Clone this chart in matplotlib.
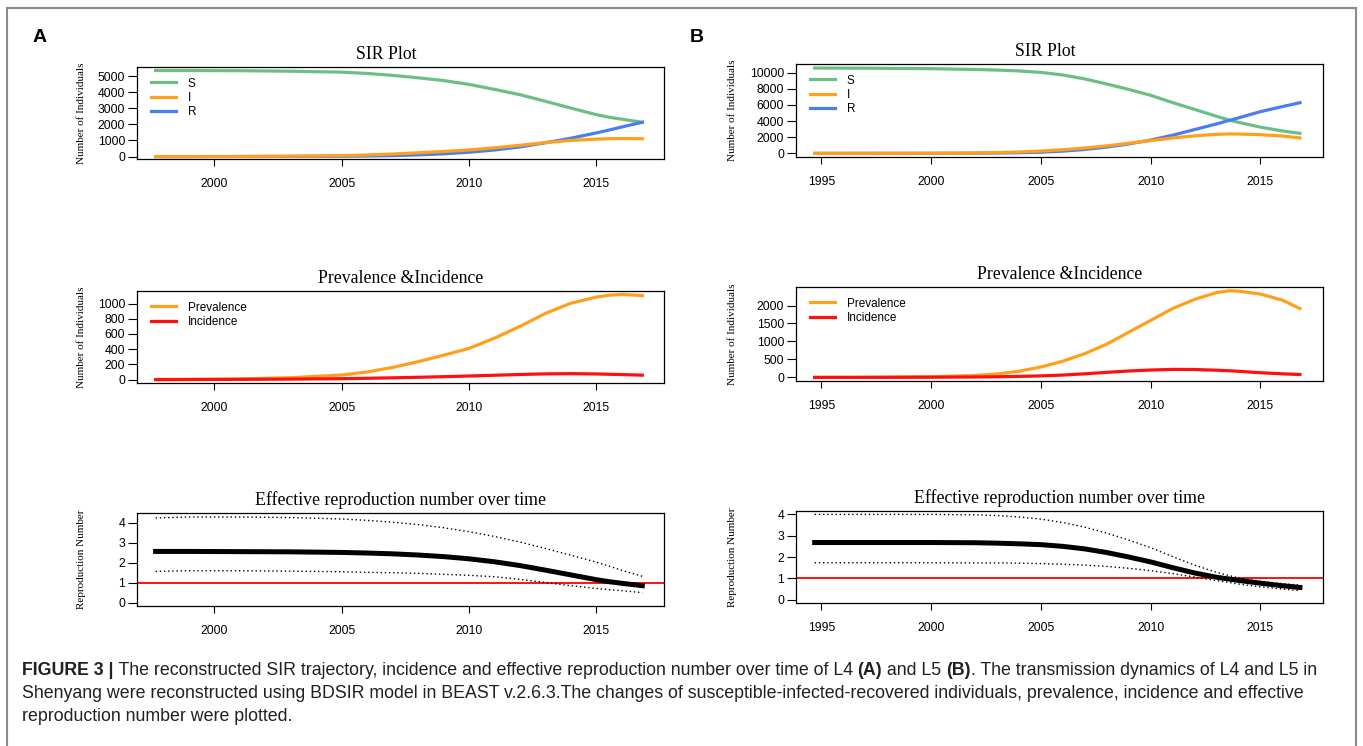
import matplotlib
matplotlib.use("Agg")
import matplotlib.pyplot as plt
from matplotlib.patches import Rectangle

W, H = 1363, 746
SANS = "Liberation Sans"
SERIF = "Liberation Serif"

# ---- data ----
# L4 (A)
yearsA = [1997.7, 1999, 2001, 2003, 2005, 2006, 2007, 2008, 2009, 2010,
          2011, 2012, 2013, 2014, 2015, 2015.5, 2016, 2016.8]
sA = [5340, 5340, 5330, 5300, 5240, 5160, 5040, 4890, 4720, 4480,
      4170, 3840, 3430, 3010, 2600, 2440, 2320, 2130]
iA = [0, 2, 8, 25, 60, 100, 160, 235, 320, 410,
      545, 700, 870, 1005, 1085, 1110, 1120, 1105]
rA = [0, 0, 2, 8, 20, 35, 60, 105, 170, 270,
      410, 600, 860, 1140, 1470, 1650, 1840, 2130]
incA = [0, 1, 3, 6, 12, 17, 23, 30, 38, 47, 57, 67, 75, 78, 74, 70, 66, 58]
reA = [2.57, 2.57, 2.56, 2.55, 2.52, 2.49, 2.45, 2.39, 2.31, 2.2,
       2.05, 1.86, 1.63, 1.39, 1.15, 1.05, 0.97, 0.85]
reA_hi = [4.25, 4.3, 4.3, 4.27, 4.2, 4.13, 4.04, 3.92, 3.76, 3.56,
          3.32, 3.04, 2.72, 2.38, 2.03, 1.83, 1.62, 1.32]
reA_lo = [1.57, 1.6, 1.6, 1.58, 1.55, 1.52, 1.5, 1.47, 1.42, 1.37,
          1.3, 1.17, 1.01, 0.85, 0.71, 0.65, 0.6, 0.5]

# L5 (B)
yearsB = [1994.7, 1997, 2000, 2002, 2003, 2004, 2005, 2006, 2007, 2008,
          2009, 2010, 2011, 2012, 2013, 2013.6, 2014, 2015, 2016, 2016.8]
sB = [10580, 10560, 10500, 10400, 10330, 10220, 10040, 9720, 9230, 8600,
      7930, 7200, 6300, 5450, 4600, 4120, 3850, 3250, 2780, 2480]
iB = [0, 3, 20, 55, 95, 170, 290, 450, 660, 925,
      1255, 1585, 1915, 2170, 2360, 2410, 2400, 2320, 2150, 1915]
rB = [0, 0, 5, 20, 40, 80, 150, 280, 480, 780,
      1170, 1650, 2250, 2950, 3650, 4100, 4400, 5170, 5800, 6280]
incB = [0, 1, 5, 12, 18, 28, 42, 65, 100, 140,
        178, 205, 222, 220, 200, 184, 170, 130, 100, 80]
reB = [2.68, 2.68, 2.68, 2.67, 2.65, 2.62, 2.58, 2.5, 2.38, 2.21,
       2.0, 1.77, 1.5, 1.25, 1.05, 0.96, 0.9, 0.77, 0.65, 0.57]
reB_hi = [4.0, 4.0, 4.0, 3.98, 3.95, 3.88, 3.78, 3.62, 3.4, 3.12,
          2.8, 2.44, 2.02, 1.62, 1.28, 1.12, 1.02, 0.86, 0.75, 0.68]
reB_lo = [1.73, 1.73, 1.73, 1.72, 1.72, 1.71, 1.69, 1.66, 1.62, 1.56,
          1.47, 1.36, 1.22, 1.06, 0.89, 0.8, 0.73, 0.6, 0.5, 0.42]

ticksA = [2000, 2005, 2010, 2015]
ticksB = [1995, 2000, 2005, 2010, 2015]

GREEN = "#6dbe85"
ORANGE = "#ffa01c"
BLUE = "#4a7ef0"
RED = "#ff1010"

fig = plt.figure(figsize=(W / 100, H / 100), dpi=100)


def make_ax(x0, x1, y0, y1):
    return fig.add_axes([x0 / W, 1 - y1 / H, (x1 - x0) / W, (y1 - y0) / H])


def style(ax, xlim, xticks, ylim, yticks, title, ylabel, labx, tx=0.5):
    ax.set_xlim(*xlim)
    ax.set_ylim(*ylim)
    ax.set_xticks(xticks)
    ax.set_yticks(yticks)
    ax.tick_params(axis="x", length=5, width=0.8, pad=9, labelsize=8.8)
    ax.tick_params(axis="y", length=6.5, width=0.8, pad=2, labelsize=8.8)
    for lab in ax.get_xticklabels() + ax.get_yticklabels():
        lab.set_family(SANS)
    for sp in ax.spines.values():
        sp.set_linewidth(0.9)
    ax.set_title(title, family=SERIF, fontsize=12.8, pad=5.5, x=tx)
    ax.set_ylabel(ylabel, family=SERIF, fontsize=8.0)
    ax.yaxis.set_label_coords(labx, 0.5)


LEG = dict(loc="upper left", bbox_to_anchor=(0.007, 1.0), frameon=False,
           prop={"family": SANS, "size": 8.5}, handlelength=2.1,
           handletextpad=1.0, labelspacing=0.18, borderaxespad=0.5)

panels = [
    dict(x=(137, 664), y=[(67, 159), (291, 383), (513, 606)],
         years=yearsA, s=sA, i=iA, r=rA, inc=incA,
         re=reA, hi=reA_hi, lo=reA_lo, xlim=(1996.97, 2017.65), xt=ticksA,
         ylims=[(-150, 5560), (-45, 1165), (-0.17, 4.5)],
         yt=[range(0, 5001, 1000), range(0, 1001, 200), range(0, 5)],
         labx=-0.097, letter="A", lx=40),
    dict(x=(796, 1323), y=[(64, 157), (287, 381), (511, 603)],
         years=yearsB, s=sB, i=iB, r=rB, inc=incB,
         re=reB, hi=reB_hi, lo=reB_lo, xlim=(1993.85, 2017.85), xt=ticksB,
         ylims=[(-450, 11080), (-100, 2515), (-0.16, 4.16)],
         yt=[range(0, 10001, 2000), range(0, 2001, 500), range(0, 5)],
         labx=-0.112, letter="B", lx=697),
]

for p in panels:
    x0, x1 = p["x"]
    # SIR plot
    ax = make_ax(x0, x1, *p["y"][0])
    ls = ax.plot(p["years"], p["s"], color=GREEN, lw=2.3)
    lr = ax.plot(p["years"], p["r"], color=BLUE, lw=2.3)
    li = ax.plot(p["years"], p["i"], color=ORANGE, lw=2.3)
    ax.legend([ls[0], li[0], lr[0]], ["S", "I", "R"], **LEG)
    style(ax, p["xlim"], p["xt"], p["ylims"][0], p["yt"][0], "SIR Plot",
          "Number of Individuals", p["labx"], tx=0.473)

    # prevalence and incidence
    ax = make_ax(x0, x1, *p["y"][1])
    ax.plot(p["years"], p["i"], color=ORANGE, lw=2.3, label="Prevalence")
    ax.plot(p["years"], p["inc"], color=RED, lw=2.3, label="Incidence")
    ax.legend(**LEG)
    style(ax, p["xlim"], p["xt"], p["ylims"][1], p["yt"][1],
          "Prevalence &Incidence", "Number of Individuals", p["labx"])

    # effective reproduction number
    ax = make_ax(x0, x1, *p["y"][2])
    ax.axhline(1, color=RED, lw=1.4)
    ax.plot(p["years"], p["hi"], color="black", lw=1.0, ls=(0, (1, 2)))
    ax.plot(p["years"], p["lo"], color="black", lw=1.0, ls=(0, (1, 2)))
    ax.plot(p["years"], p["re"], color="black", lw=3.6)
    style(ax, p["xlim"], p["xt"], p["ylims"][2], p["yt"][2],
          "Effective reproduction number over time", "Reproduction Number",
          p["labx"])

    fig.text(p["lx"] / W, 1 - 37 / H, p["letter"], family=SANS,
             fontweight="bold", fontsize=14, ha="center", va="center")

# outer frame
fig.patches.append(Rectangle((7 / W, -0.01), 1349 / W, 1 - 8 / H + 0.01,
                             transform=fig.transFigure, fill=False,
                             edgecolor="#8a8a8a", lw=1.5))

# caption with bold runs
caption = [
    [("FIGURE 3 |", "bold"),
     (" The reconstructed SIR trajectory, incidence and effective reproduction"
      " number over time of L4 ", "normal"),
     ("(A)", "bold"), (" and L5 ", "normal"), ("(B)", "bold"),
     (". The transmission dynamics of L4 and L5 in", "normal")],
    [("Shenyang were reconstructed using BDSIR model in BEAST v.2.6.3.The "
      "changes of susceptible-infected-recovered individuals, prevalence, "
      "incidence and effective", "normal")],
    [("reproduction number were plotted.", "normal")],
]
cap_base = [675, 698, 721]
cap_x0, cap_x1 = 22, 1325

renderer = fig.canvas.get_renderer()


def draw_line(runs, yy, size):
    x = cap_x0
    out = []
    for txt, wt in runs:
        t = fig.text(x / W, 1 - yy / H, txt, family=SANS, fontweight=wt,
                     fontsize=size, color="#231f20", ha="left", va="baseline")
        x += t.get_window_extent(renderer).width
        out.append(t)
    return x, out


# fit the caption size so the first line spans the same width as the reference
end, tmp = draw_line(caption[0], cap_base[0], 12)
for t in tmp:
    t.remove()
size = 12 * (cap_x1 - cap_x0) / (end - cap_x0)
for runs, yy in zip(caption, cap_base):
    draw_line(runs, yy, size)

fig.savefig("out.png", dpi=100)
